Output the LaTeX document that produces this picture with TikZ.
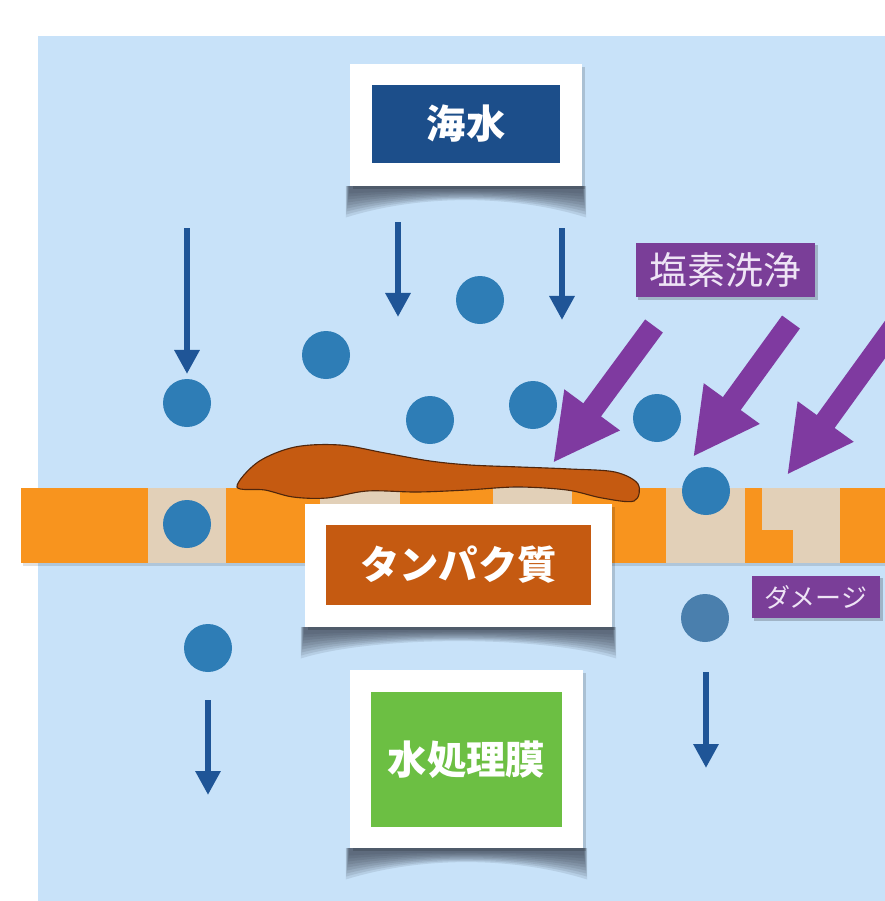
\documentclass[tikz,border=0pt]{standalone}
\usepackage{fontspec}
\newfontfamily\jpfont{Noto Sans CJK JP}
\usetikzlibrary{arrows.meta}

\definecolor{panel}{RGB}{200,226,249}
\definecolor{bandorange}{RGB}{248,148,30}
\definecolor{pore}{RGB}{226,208,184}
\definecolor{ball}{RGB}{46,125,182}
\definecolor{ballpale}{RGB}{74,127,173}
\definecolor{flowblue}{RGB}{31,85,151}
\definecolor{seablue}{RGB}{28,78,138}
\definecolor{proteinbrown}{RGB}{197,90,17}
\definecolor{proteinedge}{RGB}{80,38,12}
\definecolor{membranegreen}{RGB}{108,191,67}
\definecolor{chlorine}{RGB}{122,62,152}
\definecolor{chlorinearrow}{RGB}{127,58,160}
\definecolor{labeltext}{RGB}{238,228,245}
\definecolor{shadowgray}{RGB}{40,48,62}

\newcommand{\pxu}{0.025cm}

\tikzset{
  whitebox/.style={fill=white, inner sep=0pt},
  innerbox/.style={inner sep=0pt, text=white,
    font=\jpfont\bfseries\fontsize{28}{30}\selectfont},
  tagbox/.style={fill=chlorine, inner sep=0pt, text=labeltext},
  particle/.style={circle, fill=ball, inner sep=0pt, minimum size=48*\pxu},
  flow/.style={draw=flowblue, line width=6*\pxu,
    -{Triangle[width=0.6cm,length=0.6cm]}},
  attack/.style={draw=chlorinearrow, line width=22*\pxu,
    -{Triangle[width=1.6cm,length=1.65cm]}},
  shadowlayer/.style={fill=shadowgray, fill opacity=0.11},
}

% soft curved shadow under a white box: left, right, bottom edge;
% stacked translucent layers make it fade towards its lower edge
\newcommand{\curvedshadow}[3]{%
  \foreach \d in {0.25,0.35,0.45,0.55,0.65,0.75,0.85,0.95,1.05}{%
    \path[shadowlayer] (#1-4*\d,#3) -- (#2+4*\d,#3) -- (#2+4*\d,#3+30*\d)
      .. controls (#2-70,#3+2+6*\d) and (#1+70,#3+2+6*\d) .. (#1-4*\d,#3+30*\d) -- cycle;}}

\begin{document}
\begin{tikzpicture}[x=0.025cm, y=-0.025cm]
\useasboundingbox (0,0) rectangle (885,901);
\clip (0,0) rectangle (885,901);
\fill[white] (0,0) rectangle (885,901);
\fill[panel] (38,36) rectangle (885,901);

% membrane band with pores
\fill[black, opacity=0.12] (23,490) rectangle (885,566);
\fill[bandorange] (21,488) rectangle (885,563);
\foreach \a/\b in {148/226, 320/400, 493/572, 666/745, 762/840}
  \fill[pore] (\a,488) rectangle (\b,563);
% damaged pore corner
\fill[bandorange] (750,530) rectangle (793,563);

% particles
\foreach \n/\px/\py in {p1/187/403, p2/326/355, p3/480/300, p4/430/420,
    p5/533/405, p6/657/418, p7/706/491, p8/187/524, p9/208/648}
  \node[particle] (\n) at (\px,\py) {};
\node[particle, fill=ballpale] (p10) at (705,618) {};

% protein film on the membrane
\draw[fill=proteinbrown, draw=proteinedge, line width=0.8pt]
  plot[smooth cycle, tension=0.55] coordinates {
    (237,487) (258,462) (295,447) (340,445) (385,453) (430,461)
    (470,465) (520,467) (570,469) (615,472) (638,484) (634,501)
    (602,498) (567,490) (517,487) (467,490) (417,492) (367,491)
    (327,498) (293,497) (265,490)};

% box shadows
\curvedshadow{350}{582}{186}
\curvedshadow{305}{612}{627}
\curvedshadow{350}{583}{848}

% seawater box
\fill[black, opacity=0.15] (353,67) rectangle (585,189);
\node[whitebox, minimum width=232*\pxu, minimum height=122*\pxu] (seaw) at (466,125) {};
\node[innerbox, fill=seablue, minimum width=188*\pxu, minimum height=78*\pxu] (sea) at (466,124) {海水};

% protein box
\fill[black, opacity=0.15] (308,507) rectangle (615,630);
\node[whitebox, minimum width=307*\pxu, minimum height=123*\pxu] (protw) at (458.5,565.5) {};
\node[innerbox, fill=proteinbrown, minimum width=265*\pxu, minimum height=80*\pxu] (prot) at (458.5,565) {タンパク質};

% membrane box
\fill[black, opacity=0.15] (353,673) rectangle (586,851);
\node[whitebox, minimum width=233*\pxu, minimum height=178*\pxu] (membw) at (466.5,759) {};
\node[innerbox, fill=membranegreen, minimum width=191*\pxu, minimum height=135*\pxu] (memb) at (466.5,759.5) {水処理膜};

% tags
\fill[black, opacity=0.2] (638,245) rectangle (818,300);
\node[tagbox, minimum width=179*\pxu, minimum height=54*\pxu,
  font=\jpfont\fontsize{27}{29}\selectfont] (clean) at (725.5,270) {塩素洗浄};
\fill[black, opacity=0.2] (754,578) rectangle (883,621);
\node[tagbox, minimum width=128*\pxu, minimum height=42*\pxu,
  font=\jpfont\fontsize{18.5}{20}\selectfont] (dmg) at (816,597) {ダメージ};

% water flow
\coordinate (f1s) at (187,228); \coordinate (f1e) at (187,374);
\coordinate (f2s) at (398,222); \coordinate (f2e) at (398,317);
\coordinate (f3s) at (562,228); \coordinate (f3e) at (562,320);
\coordinate (f4s) at (208,700); \coordinate (f4e) at (208,795);
\coordinate (f5s) at (706,672); \coordinate (f5e) at (706,768);
\foreach \i in {1,...,5} \draw[flow] (f\i s) -- (f\i e);

% chlorine cleaning attack
\coordinate (c1s) at (654,326); \coordinate (c1e) at (553,463);
\coordinate (c2s) at (791,322); \coordinate (c2e) at (693,457);
\coordinate (c3s) at (910,305); \coordinate (c3e) at (787,475);
\foreach \i in {1,2,3} \draw[attack] (c\i s) -- (c\i e);
\end{tikzpicture}
\end{document}
